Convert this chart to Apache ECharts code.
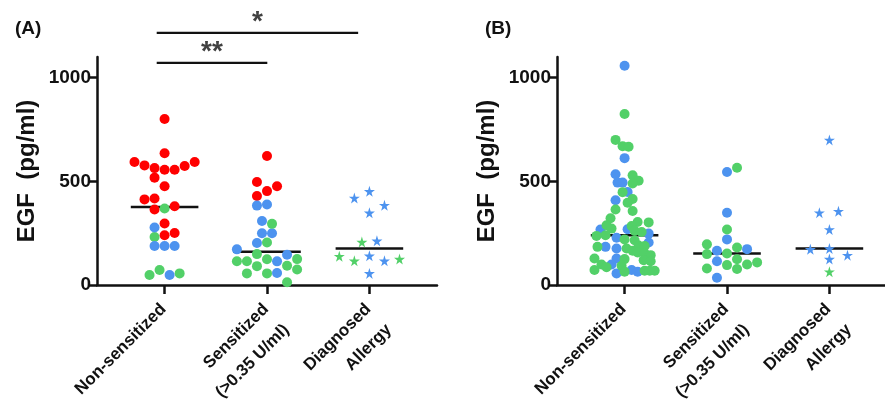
<!DOCTYPE html>
<html>
<head>
<meta charset="utf-8">
<script src="https://cdn.jsdelivr.net/npm/echarts@6/dist/echarts.min.js"></script>
<style>
  html, body { margin: 0; padding: 0; background: #fff; }
  #chart { width: 885px; height: 399px; }
</style>
</head>
<body>
<div id="chart"></div>
<script>
var categories = ['Non-sensitized', 'Sensitized\n(>0.35 U/ml)', 'Diagnosed\nAllergy'];
var yTicks = [0, 500, 1000];
var panelTitles = ['(A)', '(B)'];

// jitter is the sideways slot of each dot in the swarm (1 slot = one dot width)
// (A) Non-sensitized
var aNonRed = [801, 636, 593, 577, 564, 556, 556, 574, 593, 518, 476, 413, 417, 380, 364, 297, 251, 240];
var aNonRedJit = [0, 0, -3, -2, -1, 0, 1, 2, 3, -1, 0, -2, -1, 1, -1, 0, 1, 0];
var aNonGreen = [369, 232, 72, 56, 48];
var aNonGreenJit = [0, -1, -0.5, 1.5, -1.5];
var aNonBlue = [277, 188, 188, 188, 48];
var aNonBlueJit = [-1, -1, 0, 1, 0.5];
// (A) Sensitized
var aSenRed = [622, 497, 476, 453, 429];
var aSenRedJit = [0, -1, 1, 0, -1];
var aSenBlue = [388, 383, 309, 250, 250, 203, 172, 146, 114, 58];
var aSenBlueJit = [0, -1, -0.5, -0.5, 0.5, -1, -3, 2, 1, 1];
var aSenGreen = [295, 205, 149, 124, 125, 115, 115, 93, 91, 75, 56, 56, 13];
var aSenGreenJit = [0.5, 0, -1, 0, 3, -3, -2, 2, -1, 3, -2, 0, 2];
// (A) Diagnosed allergy
var aDiaBlue = [452, 420, 385, 348, 213, 141, 117, 56];
var aDiaBlueJit = [0, -1.5, 1.5, 0, 0.75, 0, 1.5, 0];
var aDiaGreen = [207, 139, 117, 125];
var aDiaGreenJit = [-0.75, -3, -1.5, 3];

// (B) Non-sensitized
var bNonBlue = [1058, 612, 534, 494, 494, 449, 409, 269, 268, 248, 228, 205, 184, 176, 128, 99, 72, 64, 56];
var bNonBlueJit = [0, 0, -0.9, -0.7, -0.2, 0.3, -0.9, 0.3, -2.4, 2.4, -0.8, 2.4, -1.9, -0.8, -0.8, -1.3, 0.7, 1.3, -0.8];
var bNonGreen = [825, 700, 670, 667, 529, 503, 490, 448, 415, 397, 364, 357, 322, 304, 302, 288, 285, 272, 262, 256,
  240, 237, 220, 216, 190, 188, 184, 176, 165, 157, 153, 144, 128, 125, 120, 115, 99, 93, 86, 72, 64, 69, 69, 69];
var bNonGreenJit = [0, -0.9, -0.2, 0.4, 0.8, 1.4, 0.8, -0.2, 0.8, 0.3, -0.9, 0.8, -1.4, 1.3, 2.4, -1.8, 0.7, -1.3, 1.0, 1.7,
  -1.9, -2.8, 0, 1.0, 1.4, 2.0, -2.7, 0.2, 0.8, 1.3, 2.0, 2.6, -3.0, 0, 1.9, 2.6, -2.3, -0.3, -1.8, -3.0, 0, 2.0, 2.5, 3.0];
// (B) Sensitized
var bSenBlue = [545, 349, 220, 165, 173, 115, 35];
var bSenBlueJit = [0, 0, 0, -1, 2, -1, -1];
var bSenGreen = [566, 268, 196, 181, 149, 152, 124, 96, 99, 109, 80, 77];
var bSenGreenJit = [1, 0, -2, 1, -2, 0, 1, 0, 2, 3, -2, 1];
// (B) Diagnosed allergy
var bDiaBlue = [700, 349, 356, 268, 172, 176, 125, 144];
var bDiaBlueJit = [0, -1, 0.9, 0, -1.9, 0, 0, 1.8];
var bDiaGreen = [64];
var bDiaGreenJit = [0];

var aMedians = [376, 160, 176];
var bMedians = [240, 152, 176];

// significance brackets on panel A: from, to, level, stars
var sigFrom = [0.923, 0.923];
var sigTo = [2.003, 2.89];
var sigLevel = [1072, 1216];
var sigStars = ['**', '*'];

var RED = '#ff0000', GREEN = '#52d068', BLUE = '#4d93ef', INK = '#111111';
var FONT = 'Arial, "Liberation Sans", Helvetica, sans-serif';
var SLOT = 0.098;
var STAR = 'path://M50,0 L61,35 L98,35 L68,57 L79,91 L50,70 L21,91 L32,57 L2,35 L39,35 Z';

var sets = [
  [0, 1, aNonRed, aNonRedJit, RED], [0, 1, aNonGreen, aNonGreenJit, GREEN], [0, 1, aNonBlue, aNonBlueJit, BLUE],
  [0, 2, aSenRed, aSenRedJit, RED], [0, 2, aSenBlue, aSenBlueJit, BLUE], [0, 2, aSenGreen, aSenGreenJit, GREEN],
  [0, 3, aDiaBlue, aDiaBlueJit, BLUE], [0, 3, aDiaGreen, aDiaGreenJit, GREEN],
  [1, 1, bNonBlue, bNonBlueJit, BLUE], [1, 1, bNonGreen, bNonGreenJit, GREEN],
  [1, 2, bSenBlue, bSenBlueJit, BLUE], [1, 2, bSenGreen, bSenGreenJit, GREEN],
  [1, 3, bDiaBlue, bDiaBlueJit, BLUE], [1, 3, bDiaGreen, bDiaGreenJit, GREEN]
];

var series = [];
sets.forEach(function (s) {
  var star = s[1] === 3;
  series.push({
    type: 'scatter',
    xAxisIndex: s[0], yAxisIndex: s[0],
    symbol: star ? STAR : 'circle',
    symbolSize: star ? 11 : 10,
    itemStyle: { color: s[4], opacity: 1 },
    z: 3,
    silent: true,
    data: s[2].map(function (v, i) { return [s[1] + s[3][i] * SLOT, v]; })
  });
});

[aMedians, bMedians].forEach(function (meds, p) {
  meds.forEach(function (m, i) {
    series.push({
      type: 'line', xAxisIndex: p, yAxisIndex: p,
      symbol: 'none', silent: true, z: 2,
      lineStyle: { color: INK, width: 2.5 },
      data: [[i + 1 - 0.33, m], [i + 1 + 0.33, m]]
    });
  });
});

sigLevel.forEach(function (lv, i) {
  series.push({
    type: 'line', xAxisIndex: 0, yAxisIndex: 0,
    symbol: 'none', silent: true, clip: false,
    lineStyle: { color: INK, width: 2.2 },
    data: [[sigFrom[i], lv], [sigTo[i], lv]]
  });
  series.push({
    type: 'scatter', xAxisIndex: 0, yAxisIndex: 0,
    symbolSize: 0, silent: true, clip: false,
    label: {
      show: true, position: 'top', distance: -3,
      formatter: sigStars[i], fontSize: 28, fontWeight: 'bold', color: INK, fontFamily: FONT
    },
    data: [[(sigFrom[i] + sigTo[i]) / 2, lv]]
  });
});

var grids = [
  { left: 97, top: 57, width: 340, height: 228, outerBoundsMode: 'none' },
  { left: 557, top: 57, width: 340, height: 228, outerBoundsMode: 'none' }
];

var axisLineStyle = { color: INK, width: 2.5 };

var xAxes = grids.map(function (g, i) {
  return {
    type: 'value', gridIndex: i, min: 0.34, max: 3.66,
    axisLine: { show: true, lineStyle: axisLineStyle },
    axisTick: { show: true, customValues: [1, 2, 3], length: 9, lineStyle: axisLineStyle },
    axisLabel: {
      customValues: [1, 2, 3], rotate: 45, margin: 0,
      align: 'right', verticalAlign: 'top', padding: [0, 16, 0, 0],
      fontSize: 17, fontWeight: 'bold', color: INK, fontFamily: FONT, lineHeight: 29,
      formatter: function (v) { return categories[Math.round(v) - 1]; }
    },
    splitLine: { show: false }
  };
});

var yAxes = grids.map(function (g, i) {
  return {
    type: 'value', gridIndex: i, min: 0, max: 1100,
    axisLine: { show: true, lineStyle: axisLineStyle },
    axisTick: { show: true, customValues: yTicks, length: 8, lineStyle: axisLineStyle },
    axisLabel: {
      customValues: yTicks, fontSize: 19, fontWeight: 'bold', color: INK, fontFamily: FONT, margin: 6,
      formatter: function (v) { return String(v); }
    },
    splitLine: { show: false },
    name: 'EGF  (pg/ml)', nameLocation: 'middle', nameGap: 58,
    nameTextStyle: { fontSize: 24, fontWeight: 'bold', color: INK, fontFamily: FONT }
  };
});

var chart = echarts.init(document.getElementById('chart'));
chart.setOption({
  animation: false,
  backgroundColor: '#ffffff',
  textStyle: { fontFamily: FONT },
  title: panelTitles.map(function (t, i) {
    return { text: t, left: i === 0 ? 10 : 480, top: 14, textStyle: { fontSize: 19, fontWeight: 'bold', color: INK, fontFamily: FONT } };
  }),
  grid: grids,
  xAxis: xAxes,
  yAxis: yAxes,
  series: series
});
</script>
</body>
</html>
